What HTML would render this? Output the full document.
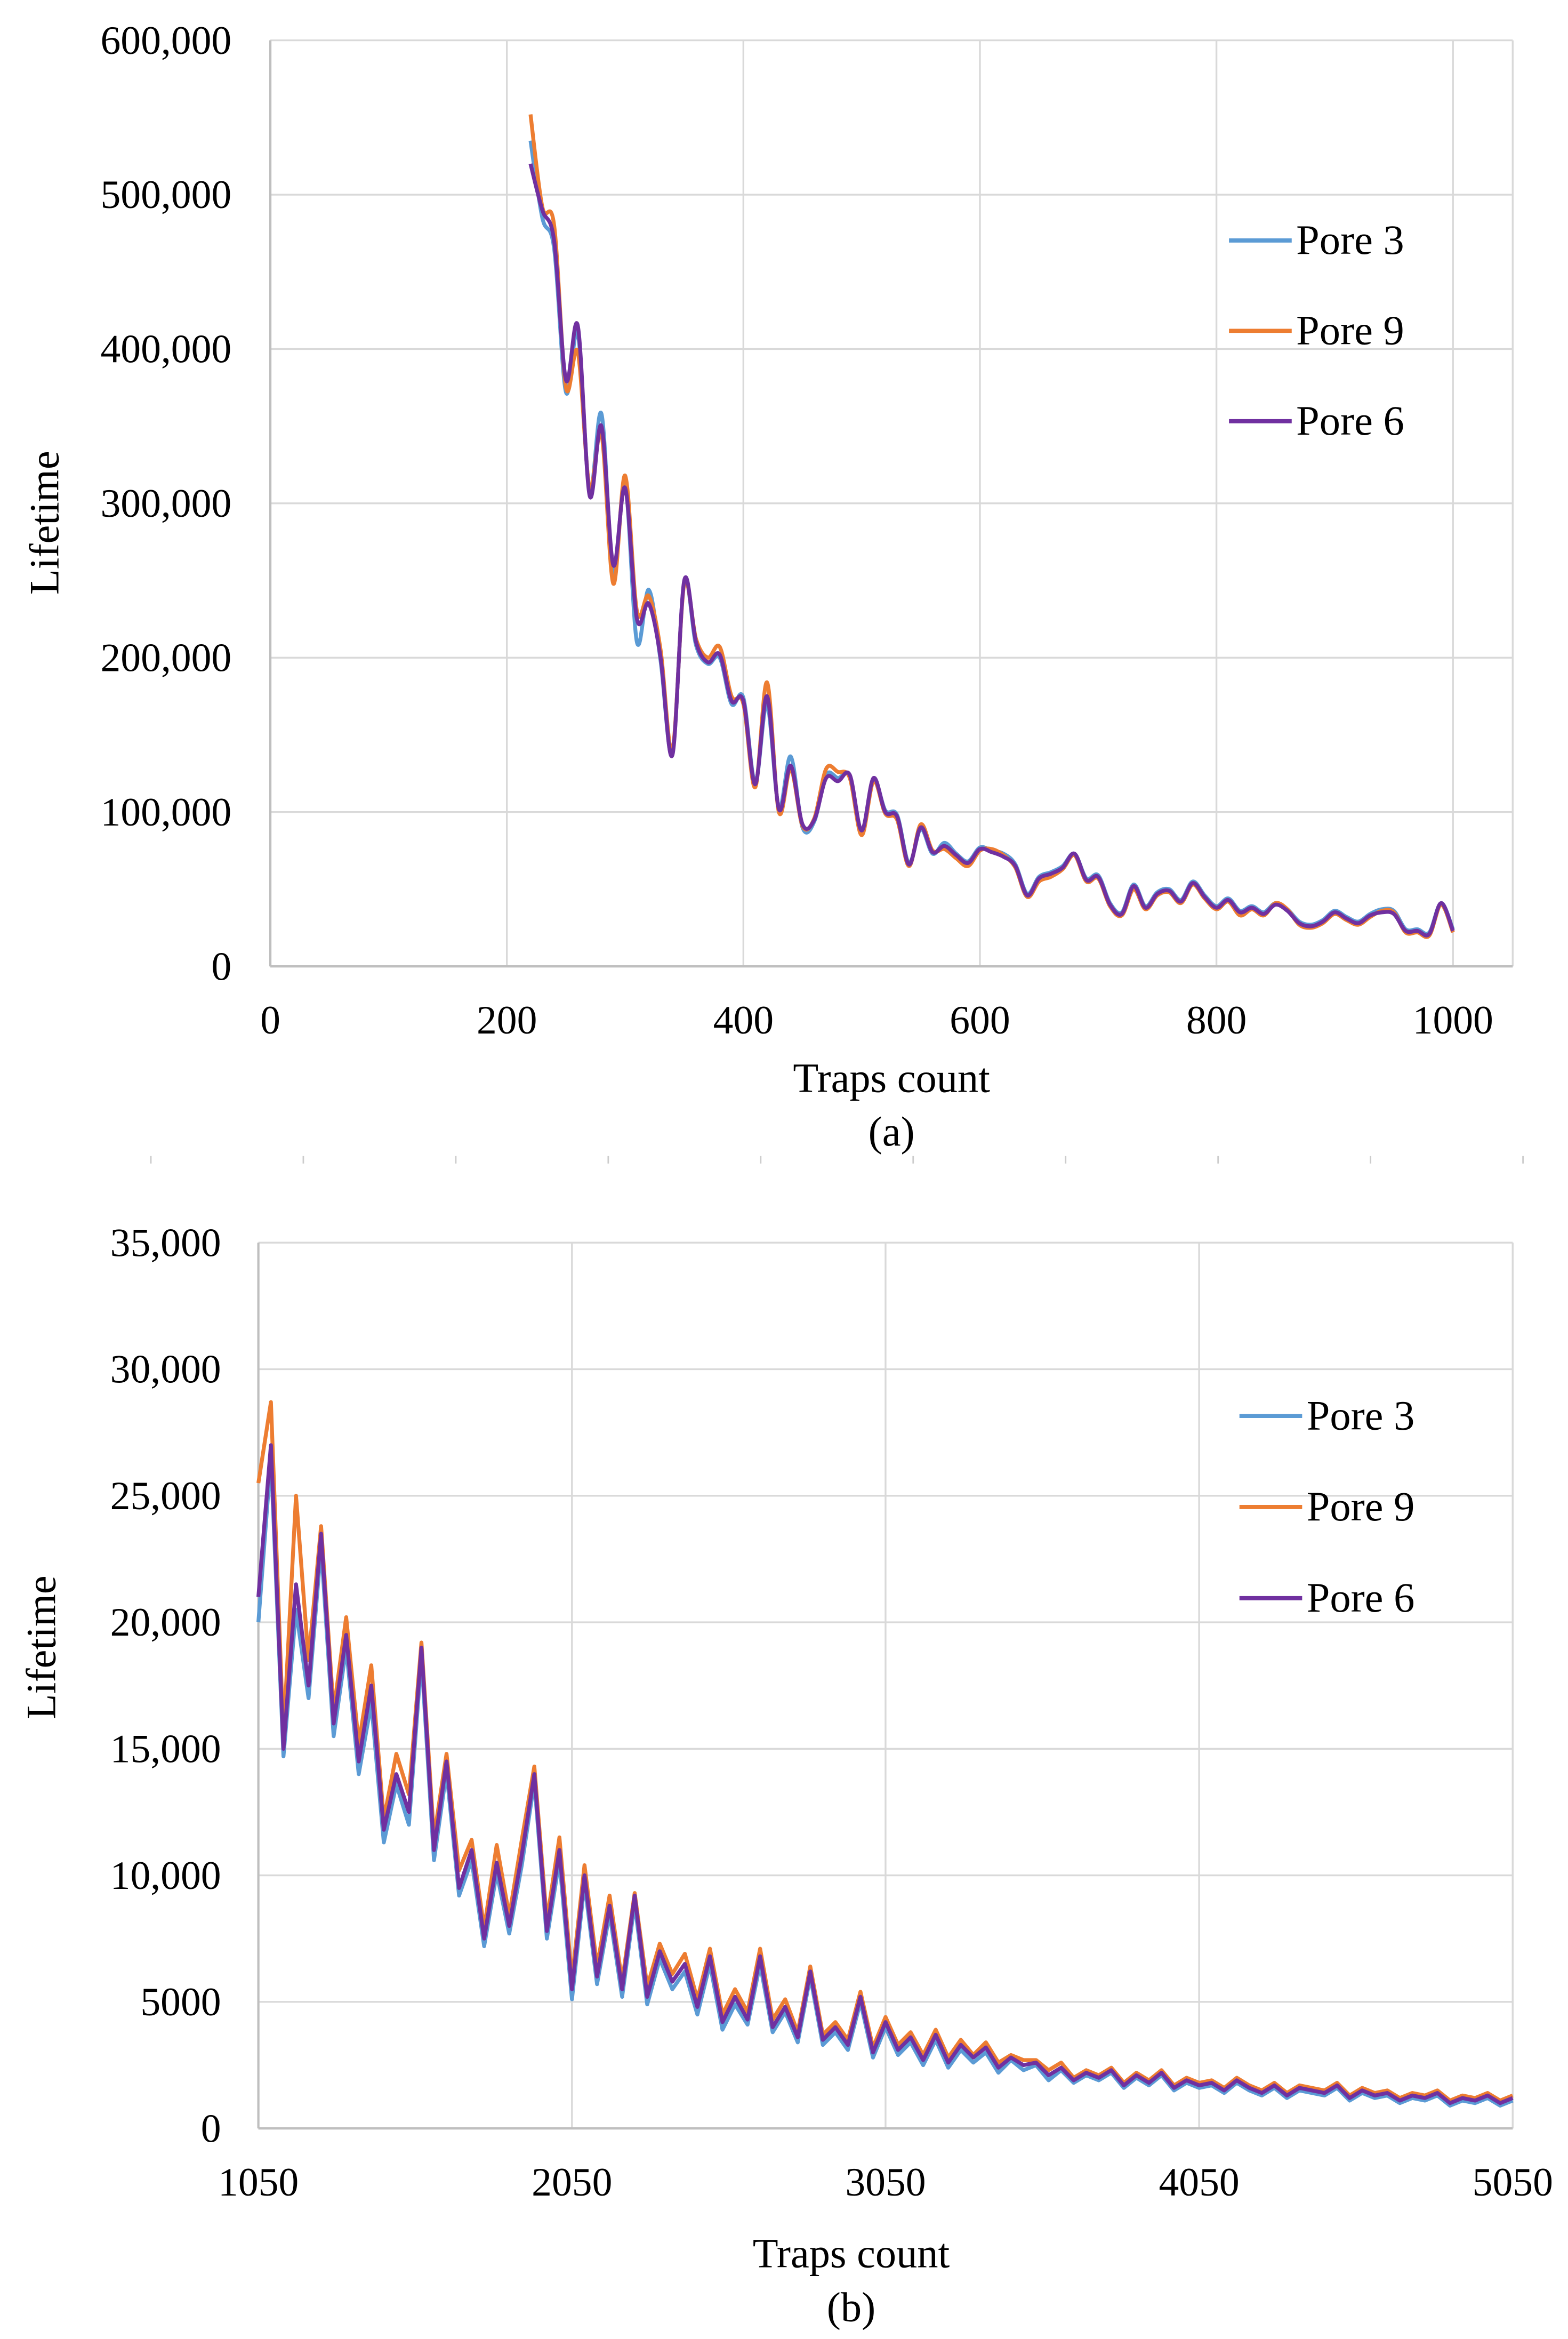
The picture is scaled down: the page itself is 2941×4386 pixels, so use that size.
<!DOCTYPE html>
<html><head><meta charset="utf-8"><style>
html,body{margin:0;padding:0;background:#fff;}
svg{display:block;}
text{font-family:"Liberation Serif",serif;fill:#000;}
</style></head><body>
<svg id="fig" width="2941" height="4386" viewBox="0 0 1050 1566" xmlns="http://www.w3.org/2000/svg">
<g id="chartA"></g>
<g id="sep"></g>
<g id="chartB"></g>
</svg>
<script>
// ---- Chart (a) data ----
const aX = [220,230,240,250,260,270,280,290,300,310,320,330,340,350,360,370,380,390,400,410,420,430,440,450,460,470,480,490,500,510,520,530,540,550,560,570,580,590,600,610,620,630,640,650,660,670,680,690,700,710,720,730,740,750,760,770,780,790,800,810,820,830,840,850,860,870,880,890,900,910,920,930,940,950,960,970,980,990,1000];
const aPore6 = [520000,490000,470000,380000,415000,305000,350000,260000,310000,225000,235000,200000,137000,250000,210000,197000,202000,172000,172000,118000,175000,102000,130000,92000,95000,122000,120000,124000,88000,122000,100000,97000,66000,90000,74000,78000,72000,67000,76000,74000,71000,65000,46000,57000,60000,64000,73000,56000,58000,40000,34000,52000,38000,47000,49000,42000,54000,45000,38000,43000,35000,38000,34000,40000,36000,28000,26000,29000,35000,31000,28000,33000,35000,34000,23000,23000,21000,41000,23000];
const aPore9 = [552000,492000,480000,375000,398000,310000,345000,248000,318000,230000,240000,205000,140000,248000,212000,200000,207000,175000,170000,116000,184000,100000,128000,91000,96000,128000,126000,122000,85000,120000,99000,95000,65000,92000,75000,76000,70000,65000,75000,76000,72000,64000,45000,55000,58000,63000,72000,55000,57000,39000,33000,50000,37000,46000,48000,41000,53000,44000,37000,42000,33000,37000,33000,41000,37000,27000,25000,28000,34000,30000,27000,32000,36000,35000,22000,22000,20000,40000,22000];
const aPore3 = [535000,485000,465000,372000,410000,308000,358000,255000,312000,210000,244000,198000,138000,249000,208000,196000,200000,170000,174000,119000,170000,103000,136000,90000,94000,124000,122000,123000,87000,121000,101000,98000,67000,89000,73000,80000,73000,68000,77000,75000,73000,66000,47000,58000,61000,65000,73000,57000,59000,41000,35000,53000,39000,48000,50000,43000,55000,46000,39000,44000,36000,39000,35000,41000,37000,29000,27000,30000,36000,32000,29000,34000,37000,36000,24000,24000,22000,41000,24000];
const aXTicks = ["0","200","400","600","800","1000"];
const aYTicks = ["0","100,000","200,000","300,000","400,000","500,000","600,000"];

// ---- Chart (b) data ----
const bStart = 1050, bStep = 40;
const bPore6 = [21000,27000,15000,21500,17500,23500,16000,19500,14500,17500,
11800,14000,12500,19000,11000,14500,9500,11000,7500,10500,
8000,10800,14000,7800,11000,5500,10000,6000,8800,5500,
9200,5200,7000,5800,6500,4800,6800,4200,5200,4300,
6800,4000,4800,3600,6200,3500,4000,3300,5200,3000,
4200,3100,3600,2700,3700,2600,3300,2800,3200,2400,
2800,2500,2600,2100,2400,1900,2200,2000,2300,1700,
2100,1800,2200,1600,1900,1700,1800,1500,1900,1600,
1400,1700,1300,1600,1500,1400,1700,1200,1500,1300,
1400,1100,1300,1200,1400,1000,1200,1100,1300,1000,1200];
const bPore9 = [25500,28700,15500,25000,18500,23800,16500,20200,15200,18300,
12200,14800,13200,19200,11500,14800,10200,11400,7900,11200,
8400,11400,14300,8200,11500,5900,10400,6400,9200,5800,
9300,5600,7300,6100,6900,5100,7100,4500,5500,4600,
7100,4300,5100,3800,6400,3700,4200,3500,5400,3200,
4400,3300,3800,2900,3900,2800,3500,2900,3400,2600,
2900,2700,2700,2300,2600,2000,2300,2100,2400,1800,
2200,1900,2300,1700,2000,1800,1900,1600,2000,1700,
1500,1800,1400,1700,1600,1500,1800,1300,1600,1400,
1500,1200,1400,1300,1500,1100,1300,1200,1400,1100,1300];
const bPore3 = [20000,26500,14700,20500,17000,23000,15500,19000,14000,16800,
11300,13600,12000,18600,10600,14100,9200,10600,7200,10100,
7700,10400,13700,7500,10600,5100,9700,5700,8500,5200,
8900,4900,6700,5500,6200,4500,6500,3900,4900,4100,
6500,3800,4600,3400,6000,3300,3800,3100,5000,2800,
4000,2900,3400,2500,3500,2400,3100,2600,3000,2200,
2700,2300,2500,1900,2300,1800,2100,1900,2200,1600,
2000,1700,2100,1500,1800,1600,1700,1400,1800,1500,
1300,1600,1200,1500,1400,1300,1600,1100,1400,1200,
1300,1000,1200,1100,1300,900,1100,1000,1200,900,1100];
const bXTicks = ["1050","2050","3050","4050","5050"];
const bYTicks = ["0","5000","10,000","15,000","20,000","25,000","30,000","35,000"];

const seriesNames = ["Pore 3","Pore 9","Pore 6"];
const seriesColors = ["#5B9BD5","#ED7D31","#7030A0"];

const NS = "http://www.w3.org/2000/svg";
function mk(parent, tag, attrs, txt){
  const e = document.createElementNS(NS, tag);
  for (const k in attrs) e.setAttribute(k, attrs[k]);
  if (txt !== undefined) e.textContent = txt;
  parent.appendChild(e);
  return e;
}
function smoothPath(pts){
  let d = "M" + pts[0][0].toFixed(2) + "," + pts[0][1].toFixed(2);
  for (let i=0;i<pts.length-1;i++){
    const p0 = pts[Math.max(0,i-1)], p1 = pts[i], p2 = pts[i+1], p3 = pts[Math.min(pts.length-1,i+2)];
    const c1x = p1[0] + (p2[0]-p0[0])/6, c1y = p1[1] + (p2[1]-p0[1])/6;
    const c2x = p2[0] - (p3[0]-p1[0])/6, c2y = p2[1] - (p3[1]-p1[1])/6;
    d += " C" + c1x.toFixed(2)+","+c1y.toFixed(2)+" "+c2x.toFixed(2)+","+c2y.toFixed(2)+" "+p2[0].toFixed(2)+","+p2[1].toFixed(2);
  }
  return d;
}

function drawChart(g, cfg){
  const {left,right,top,bottom,xMin,xMax,yMax,xTickVals,xTickLabels,yTickLabels,yStep,series,smooth,legX,legY,legGap,titleY,capY,titleX,ylabX,ylabY,xLabY,yLabRight} = cfg;
  const sx = v => left + (v - xMin) / (xMax - xMin) * (right - left);
  const sy = v => bottom - v / yMax * (bottom - top);
  yTickLabels.forEach((lab,i)=>{
    const y = sy(i*yStep);
    const gl = mk(g,"line",{x1:left,x2:right,y1:y,y2:y,stroke:"#d9d9d9","stroke-width":1.2});
    
    
    const t = mk(g,"text",{x:yLabRight,y:y+9,"text-anchor":"end","font-size":27},lab);
    
    
  });
  xTickVals.forEach((v,i)=>{
    const x = sx(v);
    const gl = mk(g,"line",{x1:x,x2:x,y1:top,y2:bottom,stroke:"#d9d9d9","stroke-width":1.2});
    
    
    const t = mk(g,"text",{x:x,y:xLabY,"text-anchor":"middle","font-size":27},xTickLabels[i]);
    
    
  });
  const rb = mk(g,"line",{x1:right,x2:right,y1:top,y2:bottom,stroke:"#d9d9d9","stroke-width":1.2});
  
  
  const xa = mk(g,"line",{x1:left,x2:right,y1:bottom,y2:bottom,stroke:"#bfbfbf","stroke-width":1.5});
  
  
  const ya = mk(g,"line",{x1:left,x2:left,y1:top,y2:bottom,stroke:"#bfbfbf","stroke-width":1.5});
  
  
  series.forEach((s,si)=>{
    const pts = s.y.map((v,i)=>[sx(s.x[i]), sy(v)]);
    let d;
    if (smooth) d = smoothPath(pts);
    else d = "M" + pts.map(p=>p[0].toFixed(2)+","+p[1].toFixed(2)).join(" L");
    const p = mk(g,"path",{d:d,fill:"none",stroke:seriesColors[si],"stroke-width":2.6,"stroke-linejoin":"round"});
    
    
  });
  seriesNames.forEach((n,i)=>{
    const y = legY + i*legGap;
    const l = mk(g,"line",{x1:legX,x2:legX+42,y1:y,y2:y,stroke:seriesColors[i],"stroke-width":2.8});
    
    
    const t = mk(g,"text",{x:legX+45,y:y+9,"font-size":28},n);
    
    
  });
  const xt = mk(g,"text",{x:titleX,y:titleY,"text-anchor":"middle","font-size":28},"Traps count");
  
  
  const cp = mk(g,"text",{x:titleX,y:capY,"text-anchor":"middle","font-size":28},cfg.caption);
  
  
  const yt = mk(g,"text",{x:0,y:0,"text-anchor":"middle","font-size":28,transform:"translate("+ylabX+","+ylabY+") rotate(-90)"},"Lifetime");
  
  
}

const bX = bPore6.map((_,i)=>bStart + i*bStep);

drawChart(document.getElementById("chartA"),{
  left:181,right:1013,top:27,bottom:647,xMin:0,xMax:1050.5,yMax:600000,yStep:100000,
  xTickVals:[0,200,400,600,800,1000],xTickLabels:aXTicks,yTickLabels:aYTicks,
  series:[{x:aX,y:aPore3},{x:aX,y:aPore9},{x:aX,y:aPore6}],smooth:true,
  legX:823,legY:161,legGap:60.5,titleX:597,titleY:731,capY:767,caption:"(a)",
  ylabX:39,ylabY:350,xLabY:692,yLabRight:155
});
drawChart(document.getElementById("chartB"),{
  left:173,right:1013,top:832,bottom:1425,xMin:1050,xMax:5050,yMax:35000,yStep:5000,
  xTickVals:[1050,2050,3050,4050,5050],xTickLabels:bXTicks,yTickLabels:bYTicks,
  series:[{x:bX,y:bPore3},{x:bX,y:bPore9},{x:bX,y:bPore6}],smooth:false,
  legX:830,legY:948,legGap:61,titleX:570,titleY:1518,capY:1554,caption:"(b)",
  ylabX:37,ylabY:1103,xLabY:1470,yLabRight:148
});
const sep = document.getElementById("sep");
for (let i=0;i<10;i++){
  const x = 101 + i*102.1;
  const t = mk(sep,"line",{x1:x,x2:x,y1:774,y2:779,stroke:"#cccccc","stroke-width":1});
  
  
}
</script>
</body></html>
